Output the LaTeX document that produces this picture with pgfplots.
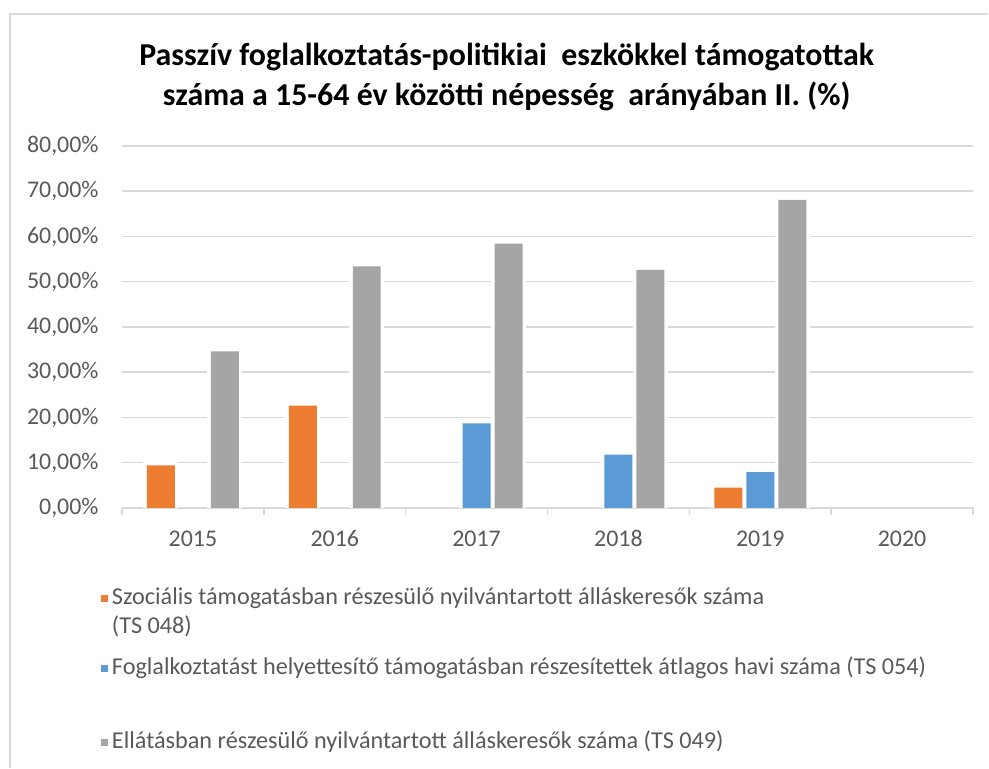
\documentclass[border=0pt]{standalone}
\usepackage{fontspec}
\setmainfont{Carlito}
\usepackage{pgfplots}
\pgfplotsset{compat=1.18}
\definecolor{cOrange}{HTML}{ED7D31}
\definecolor{cBlue}{HTML}{5B9BD5}
\definecolor{cGray}{HTML}{A5A5A5}
\definecolor{cGrid}{HTML}{D9D9D9}
\definecolor{cText}{HTML}{595959}
\pgfplotsset{
  legbox/.style={
    at={(122bp,261bp)}, anchor=south west,
    scale only axis, width=851bp, height=362bp,
    hide axis, xmin=0, xmax=1, ymin=0, ymax=1,
    legend style={at={(axis description cs:-0.0247,#1)}, anchor=north west, draw=none, fill=none,
      inner sep=0pt, outer sep=0pt, column sep=4bp,
      font=\fontsize{24.3}{29}\selectfont, text=cText,
      nodes={inner sep=0pt}, cells={anchor=base west}},
    legend image code/.code={\fill[##1, draw=none] (0bp,2bp) rectangle (7bp,9bp);},
  }
}
\begin{document}
\begin{tikzpicture}
\path (0,0) rectangle (989bp,769bp);
\draw[cGrid, line width=2bp] (9bp,755bp) -- (988bp,755bp);
\draw[cGrid, line width=2bp] (10bp,755bp) -- (10bp,1bp);
\begin{axis}[
  at={(122bp,261bp)}, anchor=south west,
  scale only axis, width=851bp, height=362bp,
  xmin=-0.5, xmax=5.5, ymin=0, ymax=80,
  axis x line*=bottom,
  axis y line*=left,
  x axis line style={cGrid, line width=1.5bp, -},
  y axis line style={draw=none},
  xtick={0,...,5},
  xticklabels={2015,2016,2017,2018,2019,2020},
  major x tick style={draw=none},
  minor xtick={-0.5,0.5,...,5.5},
  minor x tick style={cGrid, line width=1.5bp},
  minor tick length=7bp,
  tick align=outside,
  xticklabel style={font=\fontsize{24}{28}\selectfont, text=cText, inner sep=0pt, anchor=base, yshift=-34bp},
  ytick={0,10,...,80},
  ymajorgrids,
  major grid style={cGrid, line width=1.5bp},
  yticklabel={\pgfmathprintnumber[fixed,fixed zerofill,precision=2,use comma,assume math mode=true]{\tick}\%},
  yticklabel style={font=\fontsize{24}{28}\selectfont, text=cText, inner sep=0pt, anchor=east, xshift=-19bp},
  major y tick style={draw=none},
  bar width=0.1974,
  every axis plot/.append style={ybar, draw=none, preaction={draw=white, line width=7bp}},
  title={Passzív foglalkoztatás-politikiai\ \ eszkökkel támogatottak\\száma a 15-64 év közötti népesség\ \ arányában II. (\%)},
  title style={at={(axis description cs:0.452,1.267)}, anchor=north, align=center, inner sep=0pt,
    font=\fontsize{32}{40}\selectfont\bfseries, text=black},
]
\addplot[fill=cOrange, bar shift=-0.2256] coordinates {(0,9.4) (1,22.6) (4,4.5)};
\addplot[fill=cBlue, bar shift=0] coordinates {(2,18.7) (3,11.8) (4,7.9)};
\addplot[fill=cGray, bar shift=0.2256] coordinates {(0,34.6) (1,53.4) (2,58.4) (3,52.6) (4,68.1)};
\end{axis}
\begin{axis}[legbox=-0.2099]
\addlegendimage{fill=cOrange}
\addlegendentry{\parbox[t]{800bp}{\strut Szociális támogatásban részesülő nyilvántartott álláskeresők száma\\\strut(TS 048)}}
\end{axis}
\begin{axis}[legbox=-0.4033]
\addlegendimage{fill=cBlue}
\addlegendentry{\strut Foglalkoztatást helyettesítő támogatásban részesítettek átlagos havi száma (TS 054)}
\end{axis}
\begin{axis}[legbox=-0.6077]
\addlegendimage{fill=cGray}
\addlegendentry{\strut Ellátásban részesülő nyilvántartott álláskeresők száma (TS 049)}
\end{axis}
\end{tikzpicture}
\end{document}
